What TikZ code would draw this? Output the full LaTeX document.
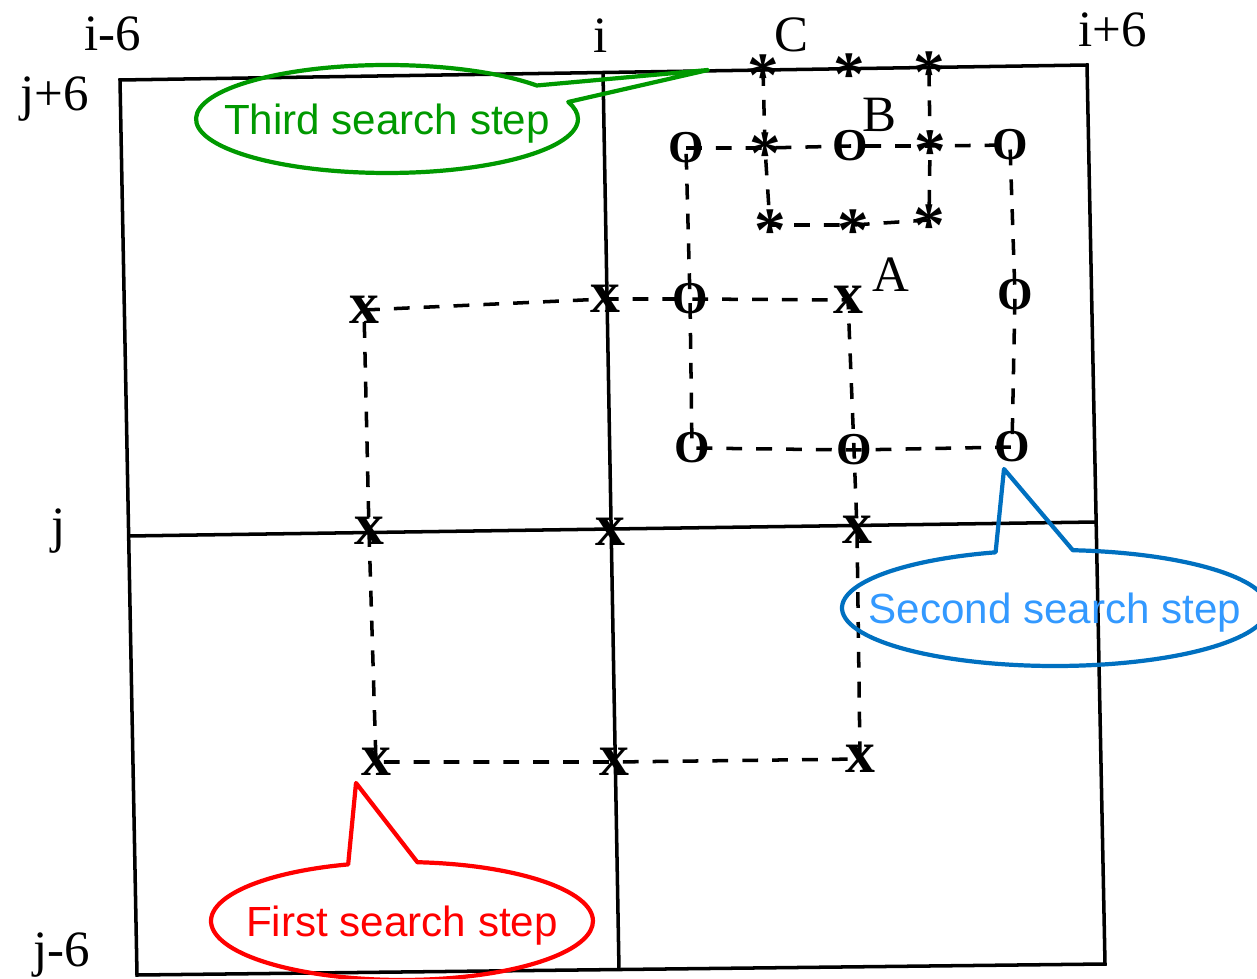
\documentclass[tikz,border=0pt]{standalone}
\usepackage{fontspec}
\setmainfont{Liberation Serif}
\newfontfamily\calloutfont{Liberation Sans}
\usetikzlibrary{shapes.callouts}
\definecolor{cgreen}{RGB}{0,153,0}
\definecolor{cblue}{RGB}{0,112,192}
\definecolor{cbluetext}{RGB}{51,153,255}
\definecolor{cred}{RGB}{255,0,0}
\begin{document}
\begin{tikzpicture}[x=0.02cm,y=-0.02cm,
  frame/.style={line width=2pt, line join=miter},
  search/.style={line width=2pt, dash pattern=on 9pt off 8pt},
  axislabel/.style={inner sep=0pt, font=\fontsize{29}{30}\selectfont},
  xmark/.style={inner sep=0pt, font=\fontsize{34}{34}\selectfont\bfseries},
  omark/.style={inner sep=0pt, font=\fontsize{26}{27}\selectfont\bfseries},
  smark/.style={inner sep=0pt, text height=30.6pt, text depth=-13.5pt, font=\fontsize{36}{36}\selectfont\bfseries},
  bubble/.style={ellipse callout, draw, line width=2.4pt, line join=round, inner sep=0pt, text depth=0pt, font=\calloutfont\fontsize{24}{26}\selectfont},
]
\useasboundingbox (0,0) rectangle (1257,979);

% frame
\coordinate (TL) at (120,80);
\coordinate (TR) at (1087,65);
\coordinate (BR) at (1105,964);
\coordinate (BL) at (137,975);
\coordinate (MT) at (603,72);
\coordinate (MB) at (619,970);
\coordinate (ML) at (128,536);
\coordinate (MR) at (1096,522);
\draw[frame] (TL) -- (TR) -- (BR) -- (BL) -- cycle;
\draw[frame] (MT) -- (MB);
\draw[frame] (ML) -- (MR);

% axis labels
\node[axislabel] (lim6) at (113,34) {i-6};
\node[axislabel] (li) at (601,36) {i};
\node[axislabel] (lC) at (791,35) {C};
\node[axislabel] (lip6) at (1113,30) {i+6};
\node[axislabel] (ljp6) at (55,99) {j+6};
\node[axislabel] (lj) at (59,531) {j};
\node[axislabel] (ljm6) at (62,955) {j-6};
\node[axislabel] (lB) at (879,115) {B};
\node[axislabel] (lA) at (891,275) {A};

% first step marks
\node[xmark] (xa1) at (364,310) {x};
\node[xmark] (xa2) at (605,299) {x};
\node[xmark] (xa3) at (848,300) {x};
\node[xmark] (xb1) at (369,531) {x};
\node[xmark] (xb2) at (610,532) {x};
\node[xmark] (xb3) at (857,530) {x};
\node[xmark] (xc1) at (376,762) {x};
\node[xmark] (xc2) at (614,762) {x};
\node[xmark] (xc3) at (860,759) {x};

% second step marks
\node[omark] (o11) at (686,148) {O};
\node[omark] (o12) at (850,146) {O};
\node[omark] (o13) at (1010,145) {O};
\node[omark] (o21) at (690,299) {O};
\node[omark] (o23) at (1015,295) {O};
\node[omark] (o31) at (692,448) {O};
\node[omark] (o32) at (854,450) {O};
\node[omark] (o33) at (1012,447) {O};

% third step marks
\node[smark] (s11) at (763,70) {*};
\node[smark] (s12) at (849,69) {*};
\node[smark] (s13) at (929,67) {*};
\node[smark] (s21) at (765,148) {*};
\node[smark] (s23) at (930,146) {*};
\node[smark] (s31) at (770,225) {*};
\node[smark] (s32) at (853,225) {*};
\node[smark] (s33) at (929,220) {*};

% dashed search squares
\draw[search] (xa1.center) -- (xa2.center) -- (o21.center) -- (xa3.center) -- (o32.center) -- (xb3.center) -- (xc3.center) -- (xc2.center) -- (xc1.center) -- (xb1.center) -- (xa1.center);
\draw[search] (o11.center) -- (s21.center) -- (o12.center) -- (s23.center) -- (o13.center) -- (o23.center) -- (o33.center) -- (o32.center) -- (o31.center) -- (o21.center) -- (o11.center);
\draw[search] (s11.center) -- (s21.center) -- (s31.center) -- (s32.center) -- (s33.center) -- (s23.center) -- (s13.center);

% callouts
\coordinate (tip3) at (708,70);
\coordinate (tip2) at (1004,469);
\coordinate (tip1) at (356,783);
\node[bubble, draw=cgreen, text=cgreen, minimum width=7.64cm, minimum height=2.16cm,
      callout absolute pointer={(tip3)}, callout pointer arc=20] (third) at (387,119) {\makebox[0pt]{Third search step}};
\node[bubble, draw=cblue, text=cbluetext, minimum width=8.52cm, minimum height=2.32cm,
      callout absolute pointer={(tip2)}, callout pointer arc=21] (second) at (1055,608) {\makebox[0pt]{Second search step}};
\node[bubble, draw=cred, text=cred, minimum width=7.64cm, minimum height=2.36cm,
      callout absolute pointer={(tip1)}, callout pointer arc=21] (first) at (402,921) {\makebox[0pt]{First search step}};
\end{tikzpicture}
\end{document}
